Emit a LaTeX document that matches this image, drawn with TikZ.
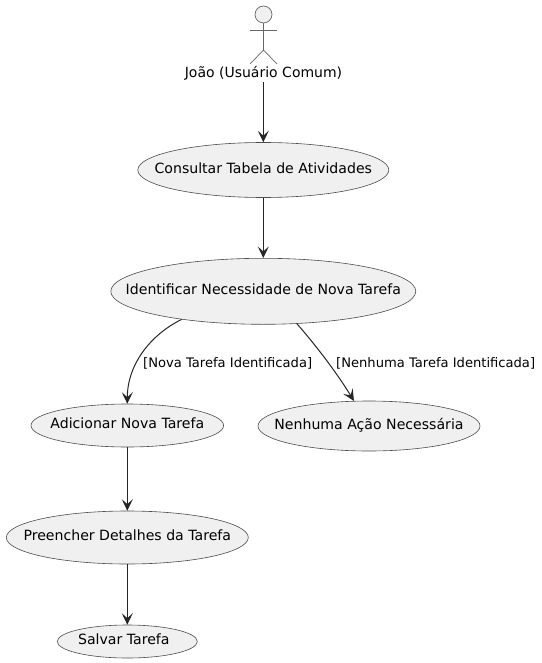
\documentclass[tikz,border=0pt]{standalone}
\usepackage{fontspec}
\setmainfont{DejaVu Sans}
\usetikzlibrary{arrows.meta}
\usetikzlibrary{shapes.geometric}
\tikzset{
	usecase/.style={ellipse, draw=black!70, fill=black!6, line width=0.6pt, inner xsep=-40pt, inner ysep=-8pt, text height=11pt, text depth=4.5pt, font=\fontsize{14.1}{16}\selectfont},
	actorline/.style={draw=black!60, line width=0.7pt},
	link/.style={-{Stealth[length=11.5pt, width=11pt, inset=5pt]}, draw=black!85, line width=1pt},
	guard/.style={font=\fontsize{13.1}{15}\selectfont, inner sep=0pt}
}
\begin{document}
\begin{tikzpicture}[x=1pt, y=-1pt]
			\useasboundingbox (0,0) rectangle (541,663);
			\node[circle, draw=black!60, fill=black!6, line width=0.7pt, minimum size=17pt, inner sep=0pt] (head) at (263.5,14.5) {};
			\coordinate (hip) at (263.5,50);
			\draw[actorline] (head) -- (hip);
			\draw[actorline] (250,30) -- (277,30);
			\draw[actorline] (250,64) -- (hip) -- (277,64);
			\node[inner sep=0pt, font=\fontsize{14}{16}\selectfont] (joao) at (263.5,73) {João (Usuário Comum)};
			\node[usecase, minimum width=251pt, minimum height=55pt] (consultar) at (263.3,170) {Consultar Tabela de Atividades};
			\node[usecase, minimum width=305pt, minimum height=66pt] (identificar) at (263.3,291.3) {Identificar Necessidade de Nova Tarefa};
			\node[usecase, minimum width=192.6pt, minimum height=43pt] (adicionar) at (127.3,425.5) {Adicionar Nova Tarefa};
			\node[usecase, minimum width=222pt, minimum height=50pt] (nenhuma) at (369,426) {Nenhuma Ação Necessária};
			\node[usecase, minimum width=242pt, minimum height=53pt] (preencher) at (127.3,537.5) {Preencher Detalhes da Tarefa};
			\node[usecase, minimum width=140pt, minimum height=33pt] (salvar) at (127.3,641.5) {Salvar Tarefa\hspace*{7pt}};
			\draw[link] (joao.south -| consultar.north) ++(0,2) -- (consultar.north);
			\draw[link] (consultar) -- (identificar);
			\draw[link] (identificar.199.5) .. controls (150,335) and (127.3,365) .. (adicionar.north);
			\draw[link] (identificar.-44.7) .. controls (320,350) and (340,378) .. (nenhuma.121);
			\draw[link] (adicionar) -- (preencher);
			\draw[link] (preencher) -- (salvar);
			\node[guard, anchor=west] (nova) at (143,363.5) {[Nova Tarefa Identificada]};
			\node[guard, anchor=west] (nenhum) at (336,363.5) {[Nenhuma Tarefa Identificada]};
		\end{tikzpicture}
\end{document}
